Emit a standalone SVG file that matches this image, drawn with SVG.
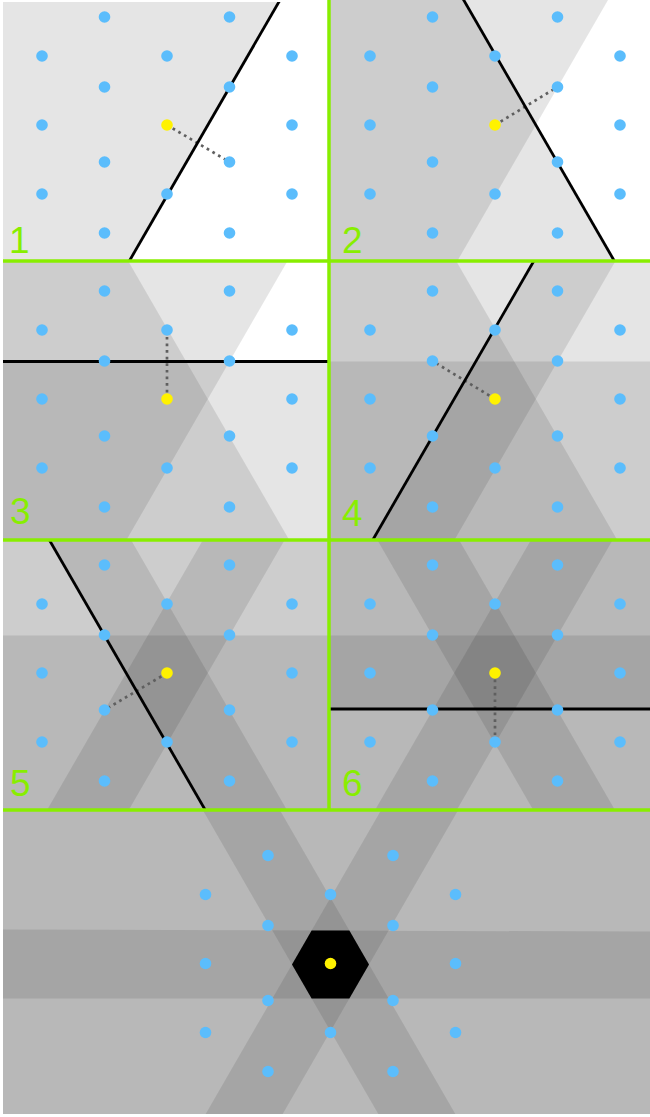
<svg xmlns="http://www.w3.org/2000/svg" width="650" height="1117" viewBox="0 0 650 1117">
<style>
.hp{fill:#000;fill-opacity:0.1}
.bl{stroke:#000;stroke-width:2.8;fill:none}
.sep{stroke:#88EE00;stroke-width:3.5;fill:none}
.con{stroke:#5f5f5f;stroke-width:2.7;stroke-dasharray:2.7 3.9;fill:none}
.d{fill:#5BBDFC}
.y{fill:#FFF200}
.lbl{font-family:"Liberation Sans",Arial,sans-serif;font-size:37px;fill:#88EE00}
</style>
<defs>
<clipPath id="c1"><rect x="3" y="2" width="326" height="259"/></clipPath>
<clipPath id="c2"><rect x="329" y="0" width="321" height="261"/></clipPath>
<clipPath id="c3"><rect x="3" y="261" width="326" height="279"/></clipPath>
<clipPath id="c4"><rect x="329" y="261" width="321" height="279"/></clipPath>
<clipPath id="c5"><rect x="3" y="540" width="326" height="270"/></clipPath>
<clipPath id="c6"><rect x="329" y="540" width="321" height="270"/></clipPath>
<clipPath id="c7"><rect x="3" y="810" width="647" height="304"/></clipPath>
<polygon id="hp1" class="hp" points="214.05,-300 -132.35,300 -500,300 -500,-300"/>
<polygon id="hp2" class="hp" points="-132.35,-300 214.05,300 -500,300 -500,-300"/>
<rect id="hp3" class="hp" x="-500" y="-37.5" width="1000" height="400"/>
<polygon id="hp4" class="hp" points="132.35,-300 -214.05,300 500,300 500,-300"/>
<polygon id="hp5" class="hp" points="-214.05,-300 132.35,300 500,300 500,-300"/>
<rect id="hp6" class="hp" x="-500" y="-400" width="1000" height="436"/>
<line id="l1" class="bl" x1="214.05" y1="-300" x2="-132.35" y2="300"/>
<line id="l2" class="bl" x1="-132.35" y1="-300" x2="214.05" y2="300"/>
<line id="l3" class="bl" x1="-500" y1="-37.5" x2="500" y2="-37.5"/>
<line id="l4" class="bl" x1="132.35" y1="-300" x2="-214.05" y2="300"/>
<line id="l5" class="bl" x1="-214.05" y1="-300" x2="132.35" y2="300"/>
<line id="l6" class="bl" x1="-500" y1="36" x2="500" y2="36"/>
<g id="lattice">
<circle class="d" cx="-62.5" cy="-108" r="5.8"/><circle class="d" cx="62.5" cy="-108" r="5.8"/>
<circle class="d" cx="-125" cy="-69" r="5.8"/><circle class="d" cx="0" cy="-69" r="5.8"/><circle class="d" cx="125" cy="-69" r="5.8"/>
<circle class="d" cx="-62.5" cy="-38" r="5.8"/><circle class="d" cx="62.5" cy="-38" r="5.8"/>
<circle class="d" cx="-125" cy="0" r="5.8"/><circle class="y" cx="0" cy="0" r="5.8"/><circle class="d" cx="125" cy="0" r="5.8"/>
<circle class="d" cx="-62.5" cy="37" r="5.8"/><circle class="d" cx="62.5" cy="37" r="5.8"/>
<circle class="d" cx="-125" cy="69" r="5.8"/><circle class="d" cx="0" cy="69" r="5.8"/><circle class="d" cx="125" cy="69" r="5.8"/>
<circle class="d" cx="-62.5" cy="108" r="5.8"/><circle class="d" cx="62.5" cy="108" r="5.8"/>
</g>
</defs>

<g id="panel-1" clip-path="url(#c1)">
<use href="#hp1" x="167" y="125"/>
</g>
<g id="panel-2" clip-path="url(#c2)">
<use href="#hp1" x="495" y="125"/><use href="#hp2" x="495" y="125"/>
</g>
<g id="panel-3" clip-path="url(#c3)">
<use href="#hp1" x="167" y="399"/><use href="#hp2" x="167" y="399"/><use href="#hp3" x="167" y="399"/>
</g>
<g id="panel-4" clip-path="url(#c4)">
<use href="#hp1" x="495" y="399"/><use href="#hp2" x="495" y="399"/><use href="#hp3" x="495" y="399"/><use href="#hp4" x="495" y="399"/>
</g>
<g id="panel-5" clip-path="url(#c5)">
<use href="#hp1" x="167" y="673"/><use href="#hp2" x="167" y="673"/><use href="#hp3" x="167" y="673"/><use href="#hp4" x="167" y="673"/><use href="#hp5" x="167" y="673"/>
</g>
<g id="panel-6" clip-path="url(#c6)">
<use href="#hp1" x="495" y="673"/><use href="#hp2" x="495" y="673"/><use href="#hp3" x="495" y="673"/><use href="#hp4" x="495" y="673"/><use href="#hp5" x="495" y="673"/><use href="#hp6" x="495" y="673"/>
</g>
<g id="panel-7" clip-path="url(#c7)">
<polygon class="hp" points="484.47,764.5 253.53,1164.5 -70,1164.5 -70,764.5"/>
<polygon class="hp" points="253.53,764.5 484.47,1164.5 -70,1164.5 -70,764.5"/>
<polygon class="hp" points="0,929.4 650,931.6 650,1164.5 0,1164.5"/>
<polygon class="hp" points="407.47,764.5 176.53,1164.5 720,1164.5 720,764.5"/>
<polygon class="hp" points="176.53,764.5 407.47,1164.5 720,1164.5 720,764.5"/>
<polygon class="hp" points="0,764.5 650,764.5 650,998.5 0,998.5"/>
<polygon id="cell" fill="#000" points="292,964.5 311.63,930.5 349.37,930.5 369,964.5 349.37,998.5 311.63,998.5"/>
</g>

<g id="connectors">
<line class="con" x1="167" y1="125" x2="229.5" y2="162"/>
<line class="con" x1="495" y1="125" x2="557.5" y2="87"/>
<line class="con" x1="167" y1="399" x2="167" y2="330"/>
<line class="con" x1="495" y1="399" x2="432.5" y2="361"/>
<line class="con" x1="167" y1="673" x2="104.5" y2="710"/>
<line class="con" x1="495" y1="673" x2="495" y2="742"/>
</g>

<g id="boundaries">
<g clip-path="url(#c1)"><use href="#l1" x="167" y="125"/></g>
<g clip-path="url(#c2)"><use href="#l2" x="495" y="125"/></g>
<g clip-path="url(#c3)"><use href="#l3" x="167" y="399"/></g>
<g clip-path="url(#c4)"><use href="#l4" x="495" y="399"/></g>
<g clip-path="url(#c5)"><use href="#l5" x="167" y="673"/></g>
<g clip-path="url(#c6)"><use href="#l6" x="495" y="673"/></g>
</g>

<g id="separators">
<line class="sep" x1="3" y1="261" x2="650" y2="261"/>
<line class="sep" x1="3" y1="540" x2="650" y2="540"/>
<line class="sep" x1="3" y1="810" x2="650" y2="810"/>
<line class="sep" x1="329" y1="0" x2="329" y2="810"/>
</g>

<g id="points-1"><use href="#lattice" x="167" y="125"/></g>
<g id="points-2"><use href="#lattice" x="495" y="125"/></g>
<g id="points-3"><use href="#lattice" x="167" y="399"/></g>
<g id="points-4"><use href="#lattice" x="495" y="399"/></g>
<g id="points-5"><use href="#lattice" x="167" y="673"/></g>
<g id="points-6"><use href="#lattice" x="495" y="673"/></g>
<g id="points-7"><use href="#lattice" x="330.5" y="963.5"/></g>

<g id="labels">
<text class="lbl" x="9" y="253">1</text>
<text class="lbl" x="342" y="253">2</text>
<text class="lbl" x="10" y="524">3</text>
<text class="lbl" x="342" y="526">4</text>
<text class="lbl" x="10" y="796">5</text>
<text class="lbl" x="342" y="796">6</text>
</g>
</svg>
